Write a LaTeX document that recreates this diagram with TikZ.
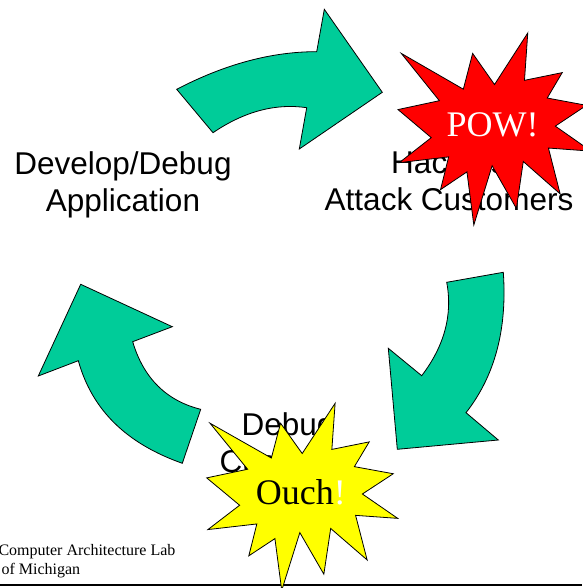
\documentclass[tikz,border=0pt]{standalone}
\usepackage{fontspec}
\setmainfont{Liberation Serif}
\newfontfamily\labelfont{Liberation Sans}
\definecolor{arrowgreen}{RGB}{0,204,153}
\definecolor{powred}{RGB}{255,0,0}
\definecolor{ouchyellow}{RGB}{255,255,0}
\tikzset{
  pics/burst/.style={code={
    \filldraw (50,26.85) -- (67.23,0) -- (65.53,24.65) -- (85.09,20.63) -- (77.32,33.87)
      -- (97.67,37.67) -- (81.51,48.50) -- (100,61.53) -- (77.95,59.92) -- (84.00,83.77)
      -- (64.91,66.93) -- (61.33,91.38) -- (48.76,69.14) -- (39.28,100) -- (35.72,72.35)
      -- (22.05,81.56) -- (26.24,64.52) -- (0.63,67.53) -- (17.23,54.51) -- (0,39.88)
      -- (21.42,35.26) -- (1.71,10.63) -- (33.85,29.26) -- (38.67,10.63) -- cycle;
  }}
}

\begin{document}
\begin{tikzpicture}[x=1pt,y=-1pt,
    blockarrow/.style={fill=arrowgreen,draw=black,line width=.8pt,line join=miter},
    steplabel/.style={font=\labelfont\fontsize{31.5}{37}\selectfont,align=center,anchor=base},
    bang/.style={font=\fontsize{36}{40}\selectfont,anchor=base},
    footer/.style={font=\fontsize{16}{18}\selectfont,anchor=base west}]
  \useasboundingbox (0,0) rectangle (582,588);

  % curved arrows of the cycle
  \draw[blockarrow] (176.7,89.3) .. controls (225.1,64.1) and (271.8,51.6) .. (316.7,51.7)
    -- (324.3,9.3) -- (382.3,92.3) -- (299.3,149) -- (306.7,107.7)
    .. controls (275.7,103.1) and (244.4,111.4) .. (213,132.7) -- cycle;
  \draw[blockarrow] (503.3,272.3) .. controls (507.3,329.1) and (494.9,375.9) .. (466,412.7)
    -- (498.3,440) -- (397.3,449.3) -- (388.3,348.3) -- (421.7,375.7)
    .. controls (444.4,345.9) and (452.8,314.8) .. (446.7,282.3) -- cycle;
  \draw[blockarrow] (182.3,463.3) .. controls (127.2,443.8) and (92.2,410.7) .. (78.3,360.7)
    -- (38.3,376) -- (80.7,284.3) -- (172.3,326.7) -- (132.7,341.7)
    .. controls (143.4,378) and (166.4,400.8) .. (200.7,409.3) -- cycle;

  % steps (base = last line)
  \node[steplabel] (develop) at (123,211.5) {Develop/Debug\\Application};
  \node[steplabel] (hack) at (449,210.7) {Hackers\\Attack Customers};
  \node[steplabel] (debug) at (288,472) {Debug\\Customer};

  % slide footer
  \draw[line width=2.5pt] (0,585) -- (582,585);
  \node[footer] (lab) at (-5,555) {Computer Architecture Lab};
  \node[footer] (univ) at (-2,574) {of Michigan};

  % bursts
  \pic[fill=powred,draw=black,line width=.8pt,xscale=1.93,yscale=1.92] at (398,33) {burst};
  \node[bang,text=white] (pow) at (492.5,136.7) {POW!};
  \pic[fill=ouchyellow,draw=black,line width=.8pt,xscale=1.91,yscale=1.87] at (206.7,403.3) {burst};
  \node[bang] (ouch) at (300.8,504) {Ouch\textcolor{white}{!}};
\end{tikzpicture}
\end{document}
